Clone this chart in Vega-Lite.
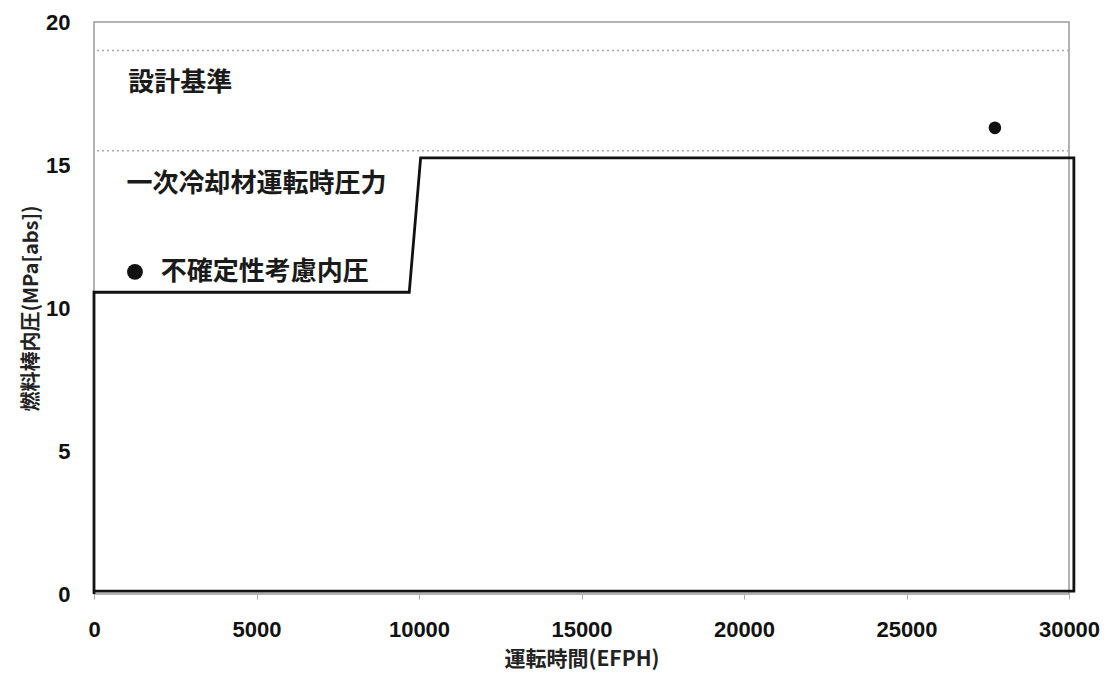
{
  "$schema": "https://vega.github.io/schema/vega-lite/v6.json",
  "autosize": {"type": "none"},
  "padding": {"left": 94, "top": 22, "right": 35, "bottom": 81},
  "width": 975,
  "height": 572,
  "background": "white",
  "config": {
    "view": {"stroke": "#9a9a9a", "strokeWidth": 1.5},
    "font": "Noto Sans CJK JP"
  },
  "datasets": {
    "pressure": [
      {"t": 0, "p": 0, "o": 0},
      {"t": 0, "p": 10.55, "o": 1},
      {"t": 9700, "p": 10.55, "o": 2},
      {"t": 10050, "p": 15.25, "o": 3},
      {"t": 30150, "p": 15.25, "o": 4},
      {"t": 30150, "p": 0.1, "o": 5},
      {"t": 0, "p": 0.1, "o": 6}
    ],
    "refs": [{"v": 19.0}, {"v": 15.5}],
    "point": [{"t": 27720, "p": 16.3}],
    "labels": [
      {"t": 1050, "p": 17.87, "label": "設計基準"},
      {"t": 1000, "p": 14.34, "label": "一次冷却材運転時圧力"},
      {"t": 2050, "p": 11.26, "label": "不確定性考慮内圧"}
    ],
    "legendDot": [{"t": 1260, "p": 11.26}]
  },
  "layer": [
    {
      "data": {"name": "refs"},
      "mark": {"type": "rule", "color": "#aaaaaa", "strokeDash": [2, 3], "strokeWidth": 1.5},
      "encoding": {
        "y": {
          "field": "v", "type": "quantitative",
          "scale": {"domain": [0, 20], "nice": false},
          "axis": {
            "values": [0, 5, 10, 15, 20],
            "format": "d",
            "labelFlush": false,
            "title": "燃料棒内圧(MPa[abs])",
            "titleFontSize": 20, "titleFontWeight": "bold", "titleColor": "#222",
            "titlePadding": 4,
            "labelFontSize": 22, "labelFontWeight": "bold", "labelColor": "#111",
            "labelFont": "Liberation Sans", "labelPadding": 24,
            "domain": false, "ticks": false, "grid": false
          }
        }
      }
    },
    {
      "data": {"name": "pressure"},
      "mark": {"type": "line", "color": "#111", "strokeWidth": 2.8, "clip": false},
      "encoding": {
        "x": {
          "field": "t", "type": "quantitative",
          "scale": {"domain": [0, 30000], "nice": false},
          "axis": {
            "values": [0, 5000, 10000, 15000, 20000, 25000, 30000],
            "format": "d",
            "labelFlush": false,
            "title": "運転時間(EFPH)",
            "titleFontSize": 21, "titleFontWeight": "bold", "titleColor": "#222",
            "titlePadding": 8,
            "labelFontSize": 22, "labelFontWeight": "bold", "labelColor": "#111",
            "labelFont": "Liberation Sans", "labelPadding": 20,
            "domain": false, "ticks": true, "tickColor": "#aaaaaa", "tickSize": 5,
            "grid": false
          }
        },
        "y": {"field": "p", "type": "quantitative"},
        "order": {"field": "o"}
      }
    },
    {
      "data": {"name": "point"},
      "mark": {"type": "point", "filled": true, "color": "#111", "size": 160, "opacity": 1},
      "encoding": {
        "x": {"field": "t", "type": "quantitative"},
        "y": {"field": "p", "type": "quantitative"}
      }
    },
    {
      "data": {"name": "legendDot"},
      "mark": {"type": "point", "filled": true, "color": "#111", "size": 250, "opacity": 1},
      "encoding": {
        "x": {"field": "t", "type": "quantitative"},
        "y": {"field": "p", "type": "quantitative"}
      }
    },
    {
      "data": {"name": "labels"},
      "mark": {"type": "text", "align": "left", "baseline": "middle", "fontSize": 26, "fontWeight": "bold", "color": "#1a1a1a"},
      "encoding": {
        "x": {"field": "t", "type": "quantitative"},
        "y": {"field": "p", "type": "quantitative"},
        "text": {"field": "label"}
      }
    }
  ]
}
